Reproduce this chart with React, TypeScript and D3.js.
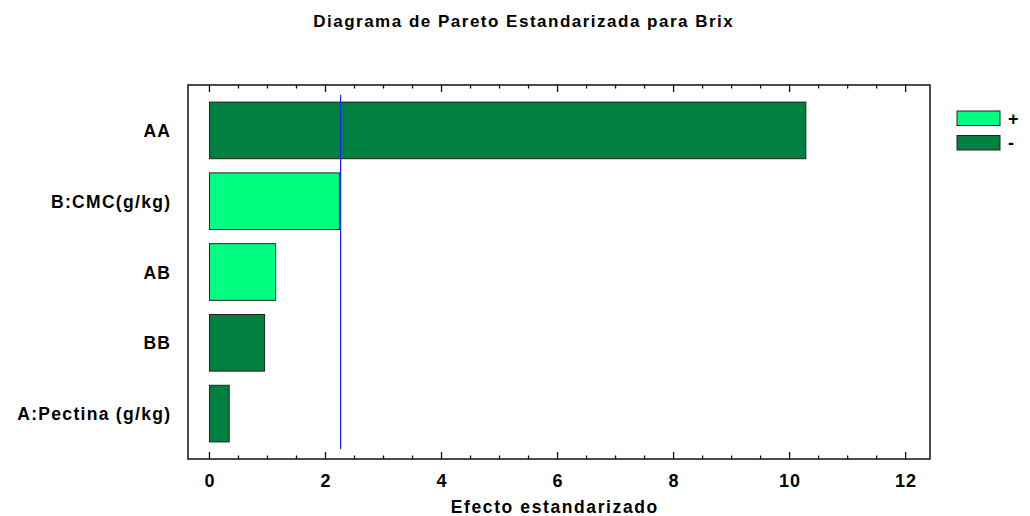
import React from 'react'
import * as d3 from 'd3'

// effects, top to bottom
const effects = ['AA', 'B:CMC(g/kg)', 'AB', 'BB', 'A:Pectina (g/kg)']
const effectValues = [10.28, 2.24, 1.14, 0.95, 0.34]
const effectSigns = ['-', '+', '+', '-', '-']
const xTicks = [0, 2, 4, 6, 8, 10, 12]
const criticalValue = 2.26
const legendItems = ['+', '-']

const title = 'Diagrama de Pareto Estandarizada para Brix'
const xTitle = 'Efecto estandarizado'

const WIDTH = 1030
const HEIGHT = 516
const FONT = '"Liberation Sans", Arial, sans-serif'

const colors = {'+': '#00ff80', '-': '#008040'}

const frame = {left: 188, right: 930, top: 85, bottom: 459}

// a little extra letter spacing, like the original export
const Label = ({x, y, size, anchor = 'middle', spacing = 1.3, children}) =>
  <text x={anchor === 'end' ? x + spacing : anchor === 'middle' ? x + spacing / 2 : x} y={y}
    textAnchor={anchor} fontFamily={FONT} fontWeight="bold" fontSize={size} fill="#000"
    style={{letterSpacing: spacing}}>
    {children}
  </text>

export default function App() {
  const x = d3.scaleLinear().domain([-0.37, 12.42]).range([frame.left, frame.right])
  const y = d3.scaleBand().domain(effects).range([95, 449]).paddingInner(0.2).paddingOuter(0.1)
  const minorTicks = d3.range(0, 12.01, 0.5)

  return <svg width={WIDTH} height={HEIGHT} style={{position: 'absolute', left: 0, top: 0, background: '#fff'}}>
    <Label x={523} y={27} size={17} spacing={1.5}>{title}</Label>

    {effects.map((name, i) =>
      <rect key={name} {...{
        x: x(0),
        y: y(name),
        width: x(effectValues[i]) - x(0),
        height: y.bandwidth(),
        fill: colors[effectSigns[i]],
        stroke: '#222',
        strokeWidth: 1,
      }} />
    )}

    <line x1={x(criticalValue)} x2={x(criticalValue)} y1={95} y2={449} stroke="#2020ff" strokeWidth={1.2} />

    <rect x={frame.left} y={frame.top} width={frame.right - frame.left} height={frame.bottom - frame.top}
      fill="none" stroke="#111" strokeWidth={1.5} />

    {minorTicks.map(t => {
      const major = Number.isInteger(t / 2)
      const len = major ? 7 : 3.5
      return <g key={t} stroke="#111" strokeWidth={1.3}>
        <line x1={x(t)} x2={x(t)} y1={frame.bottom} y2={frame.bottom - len} />
        <line x1={x(t)} x2={x(t)} y1={frame.top} y2={frame.top + len} />
      </g>
    })}

    {xTicks.map(t => <Label key={t} x={x(t)} y={487} size={18} spacing={1}>{t}</Label>)}
    <Label x={554} y={513} size={17.5} spacing={1.6}>{xTitle}</Label>

    {effects.map(name =>
      <Label key={name} x={170} y={y(name) + y.bandwidth() / 2 + 6.5} size={17.5} anchor="end">{name}</Label>
    )}

    {legendItems.map((s, i) => <g key={s}>
      <rect x={957} y={111 + i * 24.5} width={43} height={14.5} fill={colors[s]} stroke="#222" strokeWidth={1} />
      <Label x={1008} y={124.5 + i * 24.5} size={18} anchor="start">{s}</Label>
    </g>)}
  </svg>
}
